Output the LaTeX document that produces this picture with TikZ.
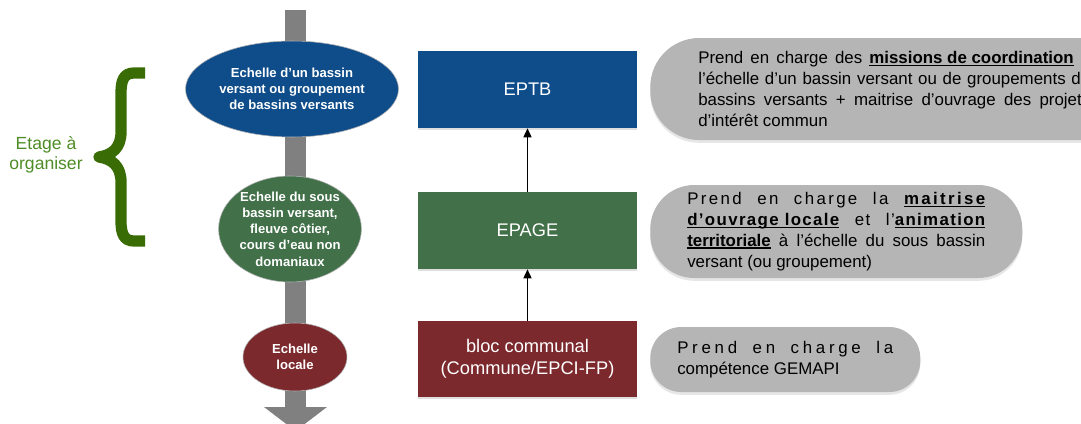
\documentclass[tikz,border=0pt]{standalone}
\usepackage{fontspec}
\setmainfont{Liberation Sans}
\usetikzlibrary{shapes.geometric,arrows.meta,shadows}

% one unit = one pixel of the layout
\newlength\pxu
\setlength\pxu{0.025cm}

\definecolor{bleu}{RGB}{15,77,138}
\definecolor{vert}{RGB}{65,112,73}
\definecolor{rouge}{RGB}{123,41,45}
\definecolor{grisaxe}{RGB}{128,128,128}
\definecolor{grisbulle}{RGB}{181,181,181}
\definecolor{vertaccolade}{RGB}{58,108,6}
\definecolor{verttexte}{RGB}{78,140,38}

% bold word with a line under it
\newcommand\souligne[1]{\setbox0\hbox{\bfseries #1}\rlap{\rule[-1.7pt]{\wd0}{0.9pt}}\box0\relax}

\tikzset{
	echelle/.style={ellipse, draw=black!30, line width=0.4pt, text=white, align=center,
		inner sep=0pt, font=\fontsize{9.3}{11.5}\selectfont\bfseries},
	structure/.style={rectangle, minimum width=219\pxu, minimum height=77\pxu, text=white,
		align=center, font=\fontsize{13}{15.5}\selectfont,
		drop shadow={opacity=0.25, shadow xshift=0pt, shadow yshift=-1.4pt}},
	bulle/.style={fill=grisbulle, anchor=west, inner ysep=0pt, font=\fontsize{12}{14.9}\selectfont,
		drop shadow={opacity=0.2, shadow xshift=0pt, shadow yshift=-2pt}},
	remonte/.style={-{Triangle[length=6.4pt,width=5.7pt]}, line width=1pt},
	accolade/.style={draw=vertaccolade, line width=8pt, line join=round}
}

\begin{document}
\begin{tikzpicture}[x=\pxu, y=-\pxu]
			%%%%% START %%%%%
			\useasboundingbox (0,0) rectangle (1081,423);
			\clip (0,0) rectangle (1081,423);
			
			% axe vertical
			\fill[grisaxe] (285,10) rectangle (306,407);
			\fill[grisaxe] (264,407) -- (327,407) -- (295.5,431) -- cycle;
			
			% echelles
			\node[echelle, fill=bleu, minimum width=213\pxu, minimum height=96\pxu] (bassin) at (292,89)
				{Echelle d’un bassin\\versant ou groupement\\de bassins versants};
			\node[echelle, fill=vert, minimum width=142\pxu, minimum height=106\pxu] (sousbassin) at (290,229)
				{Echelle du sous\\bassin versant,\\fleuve côtier,\\cours d’eau non\\domaniaux};
			\node[echelle, fill=rouge, minimum width=104\pxu, minimum height=68\pxu] (locale) at (295,357)
				{Echelle\\locale};
			
			% structures
			\node[structure, fill=bleu] (eptb) at (527.5,89.5) {EPTB};
			\node[structure, fill=vert] (epage) at (527.5,230.5) {EPAGE};
			\node[structure, fill=rouge, minimum height=76\pxu] (bloc) at (527.5,359)
				{bloc communal\\(Commune/EPCI-FP)};
			
			\draw[remonte] (epage) -- (eptb);
			\draw[remonte] (bloc) -- (epage);
			
			% competences
			\node[bulle, rounded corners=49\pxu, inner xsep=48\pxu, minimum height=102\pxu] (roleeptb) at (650,89)
				{\parbox{392\pxu}{%
				\makebox[392\pxu][s]{Prend en charge des \souligne{missions de coordination} à}\\
				\makebox[392\pxu][s]{l’échelle d’un bassin versant ou de groupements de}\\
				\makebox[392\pxu][s]{bassins versants + maitrise d’ouvrage des projets}\\
				d’intérêt commun}};
			\node[bulle, rounded corners=44\pxu, inner xsep=37\pxu, minimum height=93\pxu] (roleepage) at (650,231.5)
				{\parbox{298\pxu}{%
				\makebox[298\pxu][s]{\addfontfeature{LetterSpace=14}Prend en charge la \souligne{maitrise}}\\
				\makebox[298\pxu][s]{\addfontfeature{LetterSpace=8}\souligne{d’ouvrage locale} et l’\souligne{animation}}\\
				\makebox[298\pxu][s]{\souligne{territoriale} à l’échelle du sous bassin}\\
				versant (ou groupement)}};
			\node[bulle, rounded corners=31\pxu, inner xsep=27\pxu, minimum height=65\pxu] (rolebloc) at (650,359.5)
				{\parbox{216\pxu}{%
				\makebox[216\pxu][s]{\addfontfeature{LetterSpace=22}Prend en charge la}\\
				compétence GEMAPI}};
			
			% etage a organiser
			\draw[accolade] (145,73) -- (134,73) .. controls (124,73) and (121,80) .. (121,93)
				-- (121,132) .. controls (121,148) and (112,155) .. (99,157)
				.. controls (112,159) and (121,166) .. (121,182)
				-- (121,221) .. controls (121,234) and (124,241) .. (134,241) -- (145,241);
			\node[text=verttexte, align=center, font=\fontsize{12.5}{14.2}\selectfont] (etage) at (46,155)
				{Etage à\\organiser};
			
			%%%%% END %%%%%
\end{tikzpicture}
\end{document}
